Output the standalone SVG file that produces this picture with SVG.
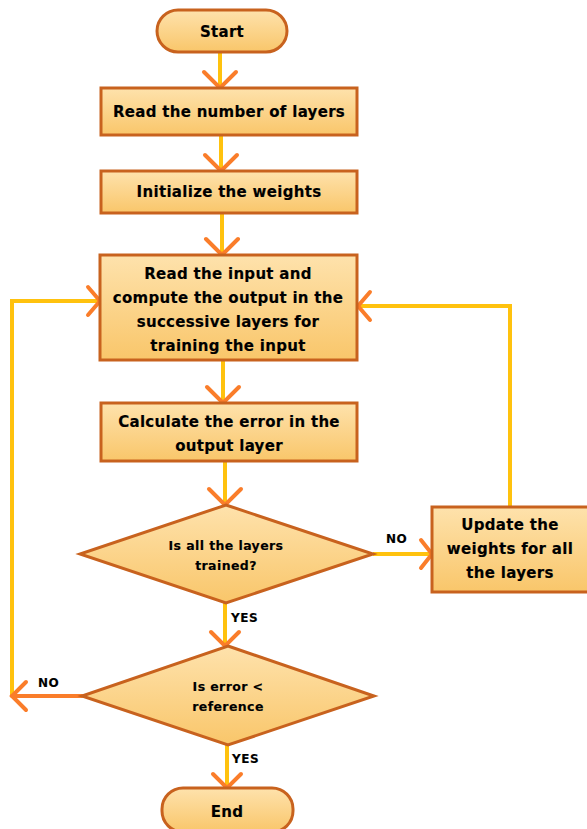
<svg xmlns="http://www.w3.org/2000/svg" width="587" height="829" viewBox="0 0 587 829">
<defs>
<linearGradient id="g" x1="0" y1="0" x2="0" y2="1">
<stop offset="0" stop-color="#FEE2AC"/>
<stop offset="1" stop-color="#F9C66A"/>
</linearGradient>
</defs>
<style>
.n{fill:url(#g);stroke:#C8621E;stroke-width:3}
.t{font-family:"DejaVu Sans",sans-serif;font-weight:bold;font-size:15px;letter-spacing:0.3px;fill:#000;stroke:#000;stroke-width:0.15;text-anchor:middle}
.s{font-size:12.5px;letter-spacing:0.4px}
.l{font-family:"DejaVu Sans",sans-serif;font-weight:bold;font-size:12px;letter-spacing:0.5px;fill:#000;stroke:#000;stroke-width:0.15}
.c{fill:none;stroke:#FFC20E;stroke-width:4}
.o{fill:none;stroke:#FA7D2A;stroke-width:4;stroke-linecap:round;stroke-linejoin:miter}
</style>
<g id="connectors">
<line class="c" x1="220" y1="52" x2="220" y2="88"/>
<polyline class="o" points="204,72 220,88 236,72"/>
<line class="c" x1="221" y1="135" x2="221" y2="171"/>
<polyline class="o" points="205,155 221,171 237,155"/>
<line class="c" x1="222" y1="213" x2="222" y2="255"/>
<polyline class="o" points="206,239 222,255 238,239"/>
<line class="c" x1="223" y1="360" x2="223" y2="403"/>
<polyline class="o" points="207,387 223,403 239,387"/>
<line class="c" x1="225" y1="461" x2="225" y2="505"/>
<polyline class="o" points="209,489 225,505 241,489"/>
<line class="c" x1="373" y1="554" x2="432" y2="554"/>
<polyline class="o" points="421,540 432,554 421,568"/>
<text class="l" x="386" y="543">NO</text>
<polyline class="c" points="510,507 510,306 358,306"/>
<polyline class="o" points="370,292 358,306 370,320"/>
<line class="c" x1="225" y1="603" x2="225" y2="646"/>
<polyline class="o" points="211,632 225,646 239,632"/>
<text class="l" x="231" y="622">YES</text>
<polyline class="c" points="12,697 12,301 100,301"/>
<polyline class="o" points="88,287 100,301 88,315"/>
<line class="o" x1="82" y1="696" x2="12" y2="696"/>
<polyline class="o" points="26,682 12,696 26,710"/>
<text class="l" x="38" y="687">NO</text>
<line class="c" x1="227" y1="745" x2="227" y2="788"/>
<polyline class="o" points="213,774 227,788 241,774"/>
<text class="l" x="232" y="763">YES</text>
</g>
<g id="start">
<rect class="n" x="157" y="10" width="130" height="42" rx="21"/>
<text class="t" x="222" y="37">Start</text>
</g>
<g id="read-layers">
<rect class="n" x="101" y="88" width="256" height="47"/>
<text class="t" x="229" y="117">Read the number of layers</text>
</g>
<g id="init-weights">
<rect class="n" x="101" y="171" width="256" height="42"/>
<text class="t" x="229" y="197">Initialize the weights</text>
</g>
<g id="compute">
<rect class="n" x="100" y="255" width="257" height="105"/>
<text class="t" x="228" y="279">Read the input and</text>
<text class="t" x="228" y="303">compute the output in the</text>
<text class="t" x="228" y="327">successive layers for</text>
<text class="t" x="228" y="351">training the input</text>
</g>
<g id="calc-error">
<rect class="n" x="101" y="403" width="256" height="58"/>
<text class="t" x="229" y="427">Calculate the error in the</text>
<text class="t" x="229" y="451">output layer</text>
</g>
<g id="all-trained">
<polygon class="n" points="226,505 373,554 226,603 80,554"/>
<text class="t s" x="226" y="550">Is all the layers</text>
<text class="t s" x="226" y="570">trained?</text>
</g>
<g id="update">
<rect class="n" x="432" y="507" width="158" height="85"/>
<text class="t" x="510" y="530">Update the</text>
<text class="t" x="510" y="554">weights for all</text>
<text class="t" x="510" y="578">the layers</text>
</g>
<g id="error-check">
<polygon class="n" points="228,646 374,696 228,745 82,696"/>
<text class="t s" x="228" y="691">Is error &lt;</text>
<text class="t s" x="228" y="711">reference</text>
</g>
<g id="end">
<rect class="n" x="162" y="788" width="131" height="44" rx="21"/>
<text class="t" x="227" y="817">End</text>
</g>
</svg>
